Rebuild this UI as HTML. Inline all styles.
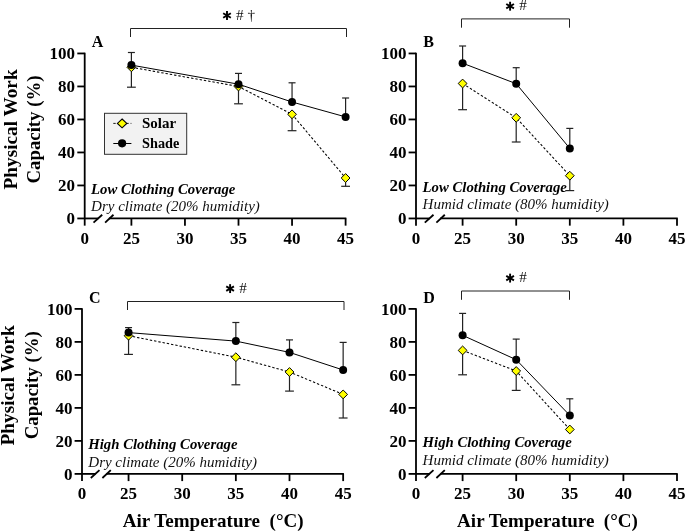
<!DOCTYPE html>
<html><head><meta charset="utf-8"><title>Physical Work Capacity</title>
<style>
html,body{margin:0;padding:0;background:#fff;}
body{width:685px;height:532px;overflow:hidden;font-family:"Liberation Serif",serif;}
svg{display:block;will-change:transform;}
</style></head><body>
<svg width="685" height="532" viewBox="0 0 685 532">
<rect width="685" height="532" fill="#fff"/>
<g stroke="#000" stroke-width="1.8" fill="none" stroke-linecap="butt">
<line x1="84.7" y1="52.70" x2="84.7" y2="225.65"/>
<line x1="77.30" y1="218.45" x2="98.30" y2="218.45"/>
<line x1="108.90" y1="218.45" x2="346.35" y2="218.45"/>
<line x1="93.50" y1="222.55" x2="102.20" y2="214.75" stroke-width="1.8"/>
<line x1="105.10" y1="222.55" x2="113.50" y2="214.75" stroke-width="1.8"/>
<line x1="77.30" y1="185.45" x2="84.7" y2="185.45"/>
<line x1="77.30" y1="152.45" x2="84.7" y2="152.45"/>
<line x1="77.30" y1="119.45" x2="84.7" y2="119.45"/>
<line x1="77.30" y1="86.45" x2="84.7" y2="86.45"/>
<line x1="77.30" y1="53.45" x2="84.7" y2="53.45"/>
<line x1="131.40" y1="218.45" x2="131.40" y2="225.65"/>
<line x1="184.95" y1="218.45" x2="184.95" y2="225.65"/>
<line x1="238.50" y1="218.45" x2="238.50" y2="225.65"/>
<line x1="292.05" y1="218.45" x2="292.05" y2="225.65"/>
<line x1="345.60" y1="218.45" x2="345.60" y2="225.65"/>
</g>
<g font-family='"Liberation Serif", serif' font-weight="bold" font-size="17px" fill="#000">
<text x="75.10" y="224.45" text-anchor="end">0</text>
<text x="75.10" y="191.45" text-anchor="end">20</text>
<text x="75.10" y="158.45" text-anchor="end">40</text>
<text x="75.10" y="125.45" text-anchor="end">60</text>
<text x="75.10" y="92.45" text-anchor="end">80</text>
<text x="75.10" y="59.45" text-anchor="end">100</text>
<text x="84.70" y="243.55" text-anchor="middle">0</text>
<text x="131.40" y="243.55" text-anchor="middle">25</text>
<text x="184.95" y="243.55" text-anchor="middle">30</text>
<text x="238.50" y="243.55" text-anchor="middle">35</text>
<text x="292.05" y="243.55" text-anchor="middle">40</text>
<text x="345.60" y="243.55" text-anchor="middle">45</text>
<text x="91.70" y="47.45" font-size="16px">A</text>
</g>
<text x="91.10" y="193.70" font-family='"Liberation Serif", serif' font-weight="bold" font-style="italic" font-size="14.75px" fill="#000">Low Clothing Coverage</text>
<text x="91.10" y="210.80" font-family='"Liberation Serif", serif' font-style="italic" font-size="15px" fill="#111">Dry climate (20% humidity)</text>
<g stroke="#222" stroke-width="1.2" fill="none">
<line x1="131.40" y1="65.10" x2="131.40" y2="52.50"/>
<line x1="127.90" y1="52.50" x2="134.90" y2="52.50"/>
<line x1="238.50" y1="84.20" x2="238.50" y2="73.40"/>
<line x1="235.00" y1="73.40" x2="242.00" y2="73.40"/>
<line x1="292.05" y1="102.00" x2="292.05" y2="82.80"/>
<line x1="288.55" y1="82.80" x2="295.55" y2="82.80"/>
<line x1="345.60" y1="116.90" x2="345.60" y2="98.00"/>
<line x1="342.10" y1="98.00" x2="349.10" y2="98.00"/>
<line x1="131.40" y1="67.30" x2="131.40" y2="87.20"/>
<line x1="127.00" y1="87.20" x2="135.80" y2="87.20"/>
<line x1="238.50" y1="86.50" x2="238.50" y2="103.80"/>
<line x1="234.10" y1="103.80" x2="242.90" y2="103.80"/>
<line x1="292.05" y1="114.30" x2="292.05" y2="130.70"/>
<line x1="287.65" y1="130.70" x2="296.45" y2="130.70"/>
<line x1="345.60" y1="178.00" x2="345.60" y2="186.30"/>
<line x1="341.20" y1="186.30" x2="350.00" y2="186.30"/>
</g>
<polyline points="131.40,67.30 238.50,86.50 292.05,114.30 345.60,178.00" fill="none" stroke="#000" stroke-width="1.05" stroke-dasharray="2.4 1.93"/>
<polyline points="131.40,65.10 238.50,84.20 292.05,102.00 345.60,116.90" fill="none" stroke="#000" stroke-width="1"/>
<path d="M131.40 62.90L135.80 67.30L131.40 71.70L127.00 67.30Z" fill="#ffff00" stroke="#000" stroke-width="1"/>
<path d="M238.50 82.10L242.90 86.50L238.50 90.90L234.10 86.50Z" fill="#ffff00" stroke="#000" stroke-width="1"/>
<path d="M292.05 109.90L296.45 114.30L292.05 118.70L287.65 114.30Z" fill="#ffff00" stroke="#000" stroke-width="1"/>
<path d="M345.60 173.60L350.00 178.00L345.60 182.40L341.20 178.00Z" fill="#ffff00" stroke="#000" stroke-width="1"/>
<circle cx="131.40" cy="65.10" r="4.0" fill="#000"/>
<circle cx="238.50" cy="84.20" r="4.0" fill="#000"/>
<circle cx="292.05" cy="102.00" r="4.0" fill="#000"/>
<circle cx="345.60" cy="116.90" r="4.0" fill="#000"/>
<path d="M130.50 37.00V28.50H346.50V37.00" fill="none" stroke="#222" stroke-width="1"/>
<g stroke="#000" stroke-width="1.9" stroke-linecap="butt"><line x1="227.00" y1="11.05" x2="227.00" y2="19.95"/><line x1="223.15" y1="13.28" x2="230.85" y2="17.73"/><line x1="230.85" y1="13.28" x2="223.15" y2="17.73"/></g>
<text x="236.10" y="19.70" font-family='"Liberation Serif", serif' font-size="15.2px" fill="#111"># †</text>
<g stroke="#000" stroke-width="1.8" fill="none" stroke-linecap="butt">
<line x1="416.0" y1="52.70" x2="416.0" y2="225.65"/>
<line x1="408.60" y1="218.45" x2="429.60" y2="218.45"/>
<line x1="440.20" y1="218.45" x2="677.75" y2="218.45"/>
<line x1="424.80" y1="222.55" x2="433.50" y2="214.75" stroke-width="1.8"/>
<line x1="436.40" y1="222.55" x2="444.80" y2="214.75" stroke-width="1.8"/>
<line x1="408.60" y1="185.45" x2="416.0" y2="185.45"/>
<line x1="408.60" y1="152.45" x2="416.0" y2="152.45"/>
<line x1="408.60" y1="119.45" x2="416.0" y2="119.45"/>
<line x1="408.60" y1="86.45" x2="416.0" y2="86.45"/>
<line x1="408.60" y1="53.45" x2="416.0" y2="53.45"/>
<line x1="462.60" y1="218.45" x2="462.60" y2="225.65"/>
<line x1="516.20" y1="218.45" x2="516.20" y2="225.65"/>
<line x1="569.80" y1="218.45" x2="569.80" y2="225.65"/>
<line x1="623.40" y1="218.45" x2="623.40" y2="225.65"/>
<line x1="677.00" y1="218.45" x2="677.00" y2="225.65"/>
</g>
<g font-family='"Liberation Serif", serif' font-weight="bold" font-size="17px" fill="#000">
<text x="406.40" y="224.45" text-anchor="end">0</text>
<text x="406.40" y="191.45" text-anchor="end">20</text>
<text x="406.40" y="158.45" text-anchor="end">40</text>
<text x="406.40" y="125.45" text-anchor="end">60</text>
<text x="406.40" y="92.45" text-anchor="end">80</text>
<text x="406.40" y="59.45" text-anchor="end">100</text>
<text x="416.00" y="243.55" text-anchor="middle">0</text>
<text x="462.60" y="243.55" text-anchor="middle">25</text>
<text x="516.20" y="243.55" text-anchor="middle">30</text>
<text x="569.80" y="243.55" text-anchor="middle">35</text>
<text x="623.40" y="243.55" text-anchor="middle">40</text>
<text x="677.00" y="243.55" text-anchor="middle">45</text>
<text x="423.20" y="47.45" font-size="16px">B</text>
</g>
<text x="422.60" y="191.80" font-family='"Liberation Serif", serif' font-weight="bold" font-style="italic" font-size="14.75px" fill="#000">Low Clothing Coverage</text>
<text x="422.60" y="209.20" font-family='"Liberation Serif", serif' font-style="italic" font-size="15px" fill="#111">Humid climate (80% humidity)</text>
<g stroke="#222" stroke-width="1.2" fill="none">
<line x1="462.60" y1="63.20" x2="462.60" y2="46.00"/>
<line x1="459.10" y1="46.00" x2="466.10" y2="46.00"/>
<line x1="516.20" y1="83.70" x2="516.20" y2="67.70"/>
<line x1="512.70" y1="67.70" x2="519.70" y2="67.70"/>
<line x1="569.80" y1="148.40" x2="569.80" y2="128.40"/>
<line x1="566.30" y1="128.40" x2="573.30" y2="128.40"/>
<line x1="462.60" y1="83.50" x2="462.60" y2="109.70"/>
<line x1="458.20" y1="109.70" x2="467.00" y2="109.70"/>
<line x1="516.20" y1="117.80" x2="516.20" y2="142.00"/>
<line x1="511.80" y1="142.00" x2="520.60" y2="142.00"/>
<line x1="569.80" y1="175.70" x2="569.80" y2="190.60"/>
<line x1="565.40" y1="190.60" x2="574.20" y2="190.60"/>
</g>
<polyline points="462.60,83.50 516.20,117.80 569.80,175.70" fill="none" stroke="#000" stroke-width="1.05" stroke-dasharray="2.4 1.93"/>
<polyline points="462.60,63.20 516.20,83.70 569.80,148.40" fill="none" stroke="#000" stroke-width="1"/>
<path d="M462.60 79.10L467.00 83.50L462.60 87.90L458.20 83.50Z" fill="#ffff00" stroke="#000" stroke-width="1"/>
<path d="M516.20 113.40L520.60 117.80L516.20 122.20L511.80 117.80Z" fill="#ffff00" stroke="#000" stroke-width="1"/>
<path d="M569.80 171.30L574.20 175.70L569.80 180.10L565.40 175.70Z" fill="#ffff00" stroke="#000" stroke-width="1"/>
<circle cx="462.60" cy="63.20" r="4.0" fill="#000"/>
<circle cx="516.20" cy="83.70" r="4.0" fill="#000"/>
<circle cx="569.80" cy="148.40" r="4.0" fill="#000"/>
<path d="M461.50 27.70V18.90H569.50V27.70" fill="none" stroke="#222" stroke-width="1"/>
<g stroke="#000" stroke-width="1.9" stroke-linecap="butt"><line x1="510.10" y1="1.75" x2="510.10" y2="10.65"/><line x1="506.25" y1="3.98" x2="513.95" y2="8.43"/><line x1="513.95" y1="3.98" x2="506.25" y2="8.43"/></g>
<text x="519.20" y="10.40" font-family='"Liberation Serif", serif' font-size="15.2px" fill="#111">#</text>
<g stroke="#000" stroke-width="1.8" fill="none" stroke-linecap="butt">
<line x1="82.0" y1="308.15" x2="82.0" y2="481.10"/>
<line x1="74.60" y1="473.9" x2="95.60" y2="473.9"/>
<line x1="106.20" y1="473.9" x2="343.90" y2="473.9"/>
<line x1="90.80" y1="478.00" x2="99.50" y2="470.20" stroke-width="1.8"/>
<line x1="102.40" y1="478.00" x2="110.80" y2="470.20" stroke-width="1.8"/>
<line x1="74.60" y1="440.90" x2="82.0" y2="440.90"/>
<line x1="74.60" y1="407.90" x2="82.0" y2="407.90"/>
<line x1="74.60" y1="374.90" x2="82.0" y2="374.90"/>
<line x1="74.60" y1="341.90" x2="82.0" y2="341.90"/>
<line x1="74.60" y1="308.90" x2="82.0" y2="308.90"/>
<line x1="128.55" y1="473.9" x2="128.55" y2="481.10"/>
<line x1="182.20" y1="473.9" x2="182.20" y2="481.10"/>
<line x1="235.85" y1="473.9" x2="235.85" y2="481.10"/>
<line x1="289.50" y1="473.9" x2="289.50" y2="481.10"/>
<line x1="343.15" y1="473.9" x2="343.15" y2="481.10"/>
</g>
<g font-family='"Liberation Serif", serif' font-weight="bold" font-size="17px" fill="#000">
<text x="72.40" y="479.90" text-anchor="end">0</text>
<text x="72.40" y="446.90" text-anchor="end">20</text>
<text x="72.40" y="413.90" text-anchor="end">40</text>
<text x="72.40" y="380.90" text-anchor="end">60</text>
<text x="72.40" y="347.90" text-anchor="end">80</text>
<text x="72.40" y="314.90" text-anchor="end">100</text>
<text x="82.00" y="499.00" text-anchor="middle">0</text>
<text x="128.55" y="499.00" text-anchor="middle">25</text>
<text x="182.20" y="499.00" text-anchor="middle">30</text>
<text x="235.85" y="499.00" text-anchor="middle">35</text>
<text x="289.50" y="499.00" text-anchor="middle">40</text>
<text x="343.15" y="499.00" text-anchor="middle">45</text>
<text x="88.90" y="302.90" font-size="16px">C</text>
</g>
<text x="88.30" y="448.90" font-family='"Liberation Serif", serif' font-weight="bold" font-style="italic" font-size="14.75px" fill="#000">High Clothing Coverage</text>
<text x="88.30" y="466.50" font-family='"Liberation Serif", serif' font-style="italic" font-size="15px" fill="#111">Dry climate (20% humidity)</text>
<g stroke="#222" stroke-width="1.2" fill="none">
<line x1="128.55" y1="332.60" x2="128.55" y2="327.60"/>
<line x1="125.05" y1="327.60" x2="132.05" y2="327.60"/>
<line x1="235.85" y1="341.10" x2="235.85" y2="322.50"/>
<line x1="232.35" y1="322.50" x2="239.35" y2="322.50"/>
<line x1="289.50" y1="352.40" x2="289.50" y2="339.90"/>
<line x1="286.00" y1="339.90" x2="293.00" y2="339.90"/>
<line x1="343.15" y1="370.00" x2="343.15" y2="342.40"/>
<line x1="339.65" y1="342.40" x2="346.65" y2="342.40"/>
<line x1="128.55" y1="335.70" x2="128.55" y2="354.40"/>
<line x1="124.15" y1="354.40" x2="132.95" y2="354.40"/>
<line x1="235.85" y1="357.20" x2="235.85" y2="384.80"/>
<line x1="231.45" y1="384.80" x2="240.25" y2="384.80"/>
<line x1="289.50" y1="372.00" x2="289.50" y2="391.10"/>
<line x1="285.10" y1="391.10" x2="293.90" y2="391.10"/>
<line x1="343.15" y1="394.40" x2="343.15" y2="418.00"/>
<line x1="338.75" y1="418.00" x2="347.55" y2="418.00"/>
</g>
<polyline points="128.55,335.70 235.85,357.20 289.50,372.00 343.15,394.40" fill="none" stroke="#000" stroke-width="1.05" stroke-dasharray="2.4 1.93"/>
<polyline points="128.55,332.60 235.85,341.10 289.50,352.40 343.15,370.00" fill="none" stroke="#000" stroke-width="1"/>
<path d="M128.55 331.30L132.95 335.70L128.55 340.10L124.15 335.70Z" fill="#ffff00" stroke="#000" stroke-width="1"/>
<path d="M235.85 352.80L240.25 357.20L235.85 361.60L231.45 357.20Z" fill="#ffff00" stroke="#000" stroke-width="1"/>
<path d="M289.50 367.60L293.90 372.00L289.50 376.40L285.10 372.00Z" fill="#ffff00" stroke="#000" stroke-width="1"/>
<path d="M343.15 390.00L347.55 394.40L343.15 398.80L338.75 394.40Z" fill="#ffff00" stroke="#000" stroke-width="1"/>
<circle cx="128.55" cy="332.60" r="4.0" fill="#000"/>
<circle cx="235.85" cy="341.10" r="4.0" fill="#000"/>
<circle cx="289.50" cy="352.40" r="4.0" fill="#000"/>
<circle cx="343.15" cy="370.00" r="4.0" fill="#000"/>
<path d="M127.50 310.00V301.50H344.00V310.00" fill="none" stroke="#222" stroke-width="1"/>
<g stroke="#000" stroke-width="1.9" stroke-linecap="butt"><line x1="230.10" y1="284.15" x2="230.10" y2="293.05"/><line x1="226.25" y1="286.38" x2="233.95" y2="290.83"/><line x1="233.95" y1="286.38" x2="226.25" y2="290.83"/></g>
<text x="239.20" y="292.80" font-family='"Liberation Serif", serif' font-size="15.2px" fill="#111">#</text>
<g stroke="#000" stroke-width="1.8" fill="none" stroke-linecap="butt">
<line x1="416.0" y1="308.15" x2="416.0" y2="481.10"/>
<line x1="408.60" y1="473.9" x2="429.60" y2="473.9"/>
<line x1="440.20" y1="473.9" x2="677.75" y2="473.9"/>
<line x1="424.80" y1="478.00" x2="433.50" y2="470.20" stroke-width="1.8"/>
<line x1="436.40" y1="478.00" x2="444.80" y2="470.20" stroke-width="1.8"/>
<line x1="408.60" y1="440.90" x2="416.0" y2="440.90"/>
<line x1="408.60" y1="407.90" x2="416.0" y2="407.90"/>
<line x1="408.60" y1="374.90" x2="416.0" y2="374.90"/>
<line x1="408.60" y1="341.90" x2="416.0" y2="341.90"/>
<line x1="408.60" y1="308.90" x2="416.0" y2="308.90"/>
<line x1="462.60" y1="473.9" x2="462.60" y2="481.10"/>
<line x1="516.20" y1="473.9" x2="516.20" y2="481.10"/>
<line x1="569.80" y1="473.9" x2="569.80" y2="481.10"/>
<line x1="623.40" y1="473.9" x2="623.40" y2="481.10"/>
<line x1="677.00" y1="473.9" x2="677.00" y2="481.10"/>
</g>
<g font-family='"Liberation Serif", serif' font-weight="bold" font-size="17px" fill="#000">
<text x="406.40" y="479.90" text-anchor="end">0</text>
<text x="406.40" y="446.90" text-anchor="end">20</text>
<text x="406.40" y="413.90" text-anchor="end">40</text>
<text x="406.40" y="380.90" text-anchor="end">60</text>
<text x="406.40" y="347.90" text-anchor="end">80</text>
<text x="406.40" y="314.90" text-anchor="end">100</text>
<text x="416.00" y="499.00" text-anchor="middle">0</text>
<text x="462.60" y="499.00" text-anchor="middle">25</text>
<text x="516.20" y="499.00" text-anchor="middle">30</text>
<text x="569.80" y="499.00" text-anchor="middle">35</text>
<text x="623.40" y="499.00" text-anchor="middle">40</text>
<text x="677.00" y="499.00" text-anchor="middle">45</text>
<text x="423.20" y="302.90" font-size="16px">D</text>
</g>
<text x="422.60" y="447.40" font-family='"Liberation Serif", serif' font-weight="bold" font-style="italic" font-size="14.75px" fill="#000">High Clothing Coverage</text>
<text x="422.60" y="464.90" font-family='"Liberation Serif", serif' font-style="italic" font-size="15px" fill="#111">Humid climate (80% humidity)</text>
<g stroke="#222" stroke-width="1.2" fill="none">
<line x1="462.60" y1="335.30" x2="462.60" y2="313.40"/>
<line x1="459.10" y1="313.40" x2="466.10" y2="313.40"/>
<line x1="516.20" y1="359.70" x2="516.20" y2="339.10"/>
<line x1="512.70" y1="339.10" x2="519.70" y2="339.10"/>
<line x1="569.80" y1="415.40" x2="569.80" y2="398.80"/>
<line x1="566.30" y1="398.80" x2="573.30" y2="398.80"/>
<line x1="462.60" y1="350.40" x2="462.60" y2="374.80"/>
<line x1="458.20" y1="374.80" x2="467.00" y2="374.80"/>
<line x1="516.20" y1="371.00" x2="516.20" y2="390.40"/>
<line x1="511.80" y1="390.40" x2="520.60" y2="390.40"/>
</g>
<polyline points="462.60,350.40 516.20,371.00 569.80,429.50" fill="none" stroke="#000" stroke-width="1.05" stroke-dasharray="2.4 1.93"/>
<polyline points="462.60,335.30 516.20,359.70 569.80,415.40" fill="none" stroke="#000" stroke-width="1"/>
<path d="M462.60 346.00L467.00 350.40L462.60 354.80L458.20 350.40Z" fill="#ffff00" stroke="#000" stroke-width="1"/>
<path d="M516.20 366.60L520.60 371.00L516.20 375.40L511.80 371.00Z" fill="#ffff00" stroke="#000" stroke-width="1"/>
<path d="M569.80 425.10L574.20 429.50L569.80 433.90L565.40 429.50Z" fill="#ffff00" stroke="#000" stroke-width="1"/>
<circle cx="462.60" cy="335.30" r="4.0" fill="#000"/>
<circle cx="516.20" cy="359.70" r="4.0" fill="#000"/>
<circle cx="569.80" cy="415.40" r="4.0" fill="#000"/>
<path d="M461.50 299.80V291.00H569.50V299.80" fill="none" stroke="#222" stroke-width="1"/>
<g stroke="#000" stroke-width="1.9" stroke-linecap="butt"><line x1="510.10" y1="273.65" x2="510.10" y2="282.55"/><line x1="506.25" y1="275.88" x2="513.95" y2="280.33"/><line x1="513.95" y1="275.88" x2="506.25" y2="280.33"/></g>
<text x="519.20" y="282.30" font-family='"Liberation Serif", serif' font-size="15.2px" fill="#111">#</text>
<rect x="104.5" y="113.3" width="82.2" height="41" fill="#f2f2f2" stroke="#333" stroke-width="1"/>
<line x1="113.3" y1="123.4" x2="131.4" y2="123.4" stroke="#000" stroke-width="0.9" stroke-dasharray="2.4 1.93"/>
<path d="M122.1 119.0L126.8 123.4L122.1 127.8L117.4 123.4Z" fill="#ffff00" stroke="#000" stroke-width="1.1"/>
<line x1="113.3" y1="143.5" x2="131.4" y2="143.5" stroke="#000" stroke-width="1"/>
<circle cx="122.1" cy="143.3" r="4.1" fill="#000"/>
<g font-family='"Liberation Serif", serif' font-weight="bold" font-size="15px" fill="#000">
<text x="142.0" y="128.3" textLength="34.1" lengthAdjust="spacingAndGlyphs">Solar</text>
<text x="142.0" y="147.9" textLength="37.3" lengthAdjust="spacingAndGlyphs">Shade</text>
</g>
<g font-family='"Liberation Serif", serif' font-weight="bold" font-size="19.05px" fill="#000">
<text x="122.8" y="527.3" xml:space="preserve">Air Temperature  (°C)</text>
<text x="457.1" y="527.3" xml:space="preserve">Air Temperature  (°C)</text>
<text transform="translate(16.9 129.4) rotate(-90)" text-anchor="middle" font-size="19.25px">Physical Work</text>
<text transform="translate(40.1 129.5) rotate(-90)" text-anchor="middle" font-size="18.8px">Capacity (%)</text>
<text transform="translate(14.4 385.4) rotate(-90)" text-anchor="middle" font-size="19.25px">Physical Work</text>
<text transform="translate(37.6 385.3) rotate(-90)" text-anchor="middle" font-size="18.8px">Capacity (%)</text>
</g>
</svg></body></html>
